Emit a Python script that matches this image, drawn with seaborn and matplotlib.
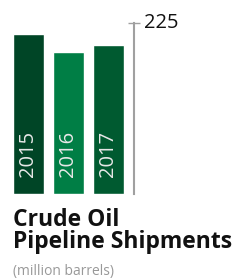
import matplotlib
matplotlib.use("Agg")
import matplotlib.pyplot as plt
import seaborn as sns
import pandas as pd

years = ["2015", "2016", "2017"]
values = [210, 187, 196]
colors = ["#004526", "#007E45", "#005A30"]
ytick_vals = [225]
ytick_labels = ["225"]
title_lines = ["Crude Oil", "Pipeline Shipments"]
subtitle = "(million barrels)"

sns.set_style("white")
plt.rcParams["font.family"] = ["Open Sans", "DejaVu Sans"]

df = pd.DataFrame({"year": years, "value": values})

fig = plt.figure(figsize=(2.44, 2.78), dpi=100)
ax = fig.add_axes([13 / 244, (278 - 193.5) / 278, 121 / 244, 170.5 / 278])

sns.barplot(data=df, x="year", y="value", hue="year", palette=colors,
            width=0.775, legend=False, ax=ax, saturation=1)

ax.set_xlim(-0.3875, 2.6375)
ax.set_ylim(0, 225)
for s in ["left", "top", "bottom"]:
    ax.spines[s].set_visible(False)
ax.spines["right"].set_color("#a0a0a0")
ax.spines["right"].set_linewidth(1.5)
ax.yaxis.tick_right()
ax.set_yticks(ytick_vals)
ax.set_yticklabels(ytick_labels)
ax.tick_params(axis="y", direction="inout", length=8, width=1, color="#a0a0a0",
               labelsize=14.5, labelcolor="#111111", pad=3)
ax.tick_params(axis="x", bottom=False, labelbottom=False)
ax.set_xlabel("")
ax.set_ylabel("")
for lbl in ax.get_yticklabels():
    lbl.set_verticalalignment("center")

for i, y in enumerate(years):
    ax.text(i, 22, y, rotation=90, ha="center", va="bottom",
            color="#e8e8e8", fontsize=14.5)

fig.text(13 / 244, 1 - 226.5 / 278, title_lines[0], ha="left", va="baseline",
         fontsize=16.5, fontweight="bold", color="#111111")
fig.text(13 / 244, 1 - 248.5 / 278, title_lines[1], ha="left", va="baseline",
         fontsize=16.5, fontweight="bold", color="#111111")
fig.text(13 / 244, 1 - 274.5 / 278, subtitle, ha="left", va="baseline",
         fontsize=10, color="#999999")

fig.savefig("out.png", dpi=100)
